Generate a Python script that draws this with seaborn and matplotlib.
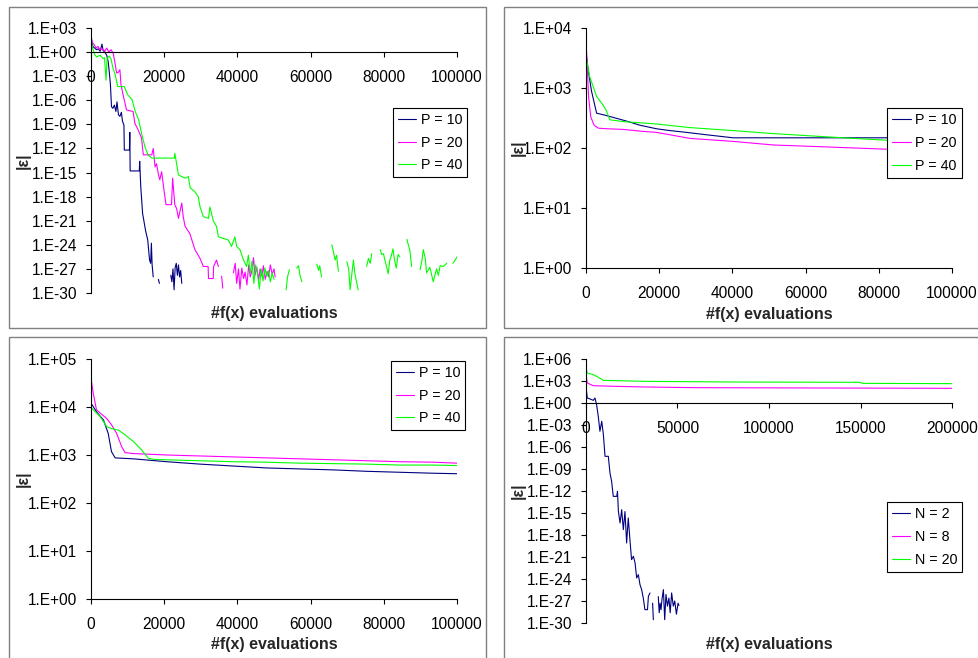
import numpy as np
import pandas as pd
import matplotlib
matplotlib.use("Agg")
import matplotlib.pyplot as plt
from matplotlib.patches import Rectangle
from matplotlib.ticker import FixedLocator, FixedFormatter, NullLocator
import seaborn as sns

# ---------------- data: (evaluations, log10 |eps|), None = gap ----------------
P1_P10 = [(0, 1.8), (500, 0.7), (1000, 0.5), (1500, 0.3), (2000, 0.4), (2500, 0.1),
          (3000, 1.0), (3300, 0.2), (3800, 0.0), (4300, -0.4), (4700, -1.2), (5000, -2.5),
          (5300, -4.0), (5600, -6.8), (6000, -7.0), (6400, -6.6), (6800, -7.4), (7100, -6.2),
          (7500, -7.8), (7900, -8.0), (8300, -7.5), (8600, -8.6), (9000, -9.1), (9100, -12.2),
          (10500, -12.2), (10600, -10.0), (10700, -14.8), (13200, -14.8), (13300, -13.6),
          (13600, -16.8), (14100, -20.1), (14900, -22.2), (15500, -23.4), (16000, -25.9),
          (16300, -26.3), (16500, -23.8), (16700, -26.5), (17000, -28.0), None,
          (18400, -28.3), (18700, -28.8), None,
          (21800, -27.8), (22100, -28.6), (22400, -27.0), (22700, -29.6), (23000, -26.8),
          (23300, -26.3), (23600, -27.8), (23900, -26.5), (24200, -28.0), (24500, -27.2),
          (24800, -28.8)]
P1_P20 = [(0, 2.0), (400, 1.2), (900, 0.9), (1400, 0.5), (1900, 0.7), (2500, 0.3),
          (3100, 0.4), (3700, 0.1), (4300, 0.5), (4900, 0.0), (5500, 0.3), (6100, -0.2),
          (6600, -1.5), (7000, -2.6), (7500, -2.5), (7900, -2.2), (8200, -4.1), (9000, -5.8),
          (9700, -7.2), (11500, -7.4), (12000, -8.9), (12900, -9.7), (13800, -10.7),
          (14300, -12.8), (16600, -12.8), (17000, -12.0), (17500, -14.3), (17900, -13.9),
          (18400, -15.2), (18800, -15.9), (19300, -14.9), (20000, -17.4), (20500, -19.0),
          (22000, -19.0), (22300, -15.7), (22900, -19.0), (23400, -19.5), (23900, -20.7),
          (24800, -18.8), (25200, -20.5), (25700, -21.7), (27000, -22.6), (28400, -24.6),
          (29800, -25.7), (30700, -26.7), (32000, -26.7), (32100, -28.2), (33400, -28.2),
          (33500, -26.7), (34300, -25.9), (34800, -26.7), None,
          (35700, -27.9), (36000, -29.4), None,
          (38900, -27.5), (39400, -26.3), (39800, -28.8), (40300, -27.0), (40700, -29.5),
          (41200, -26.9), (41700, -28.2), (42100, -27.4), (42600, -29.0), (43100, -26.5),
          (43500, -28.0), (44000, -27.2), (44400, -25.6), (44800, -27.8), (45300, -26.8),
          (45800, -28.4), (46200, -27.0), (46700, -27.9), (47100, -26.6), (47600, -28.3),
          (48100, -27.3), (48500, -28.0), (49000, -26.5), (49500, -27.7), (50000, -27.0),
          (50300, -28.0)]
P1_P40 = [(0, 1.6), (500, 0.4), (1000, -0.3), (1500, -0.6), (2500, -0.4), (3300, -0.8),
          (3700, -0.7), (4100, -3.5), (4400, -0.8), (5000, -0.5), (5500, -0.9), (6000, -2.0),
          (6600, -2.8), (7300, -4.3), (9100, -4.3), (10000, -5.3), (11200, -5.9),
          (12100, -7.4), (13000, -8.4), (13800, -10.1), (14800, -11.9), (15600, -12.8),
          (16600, -13.2), (22800, -13.2), (22900, -12.6), (23900, -15.3), (25700, -15.7),
          (26600, -15.5), (27100, -16.9), (28400, -17.4), (29300, -18.0), (29800, -19.3),
          (30700, -20.5), (32100, -20.7), (32500, -19.3), (33400, -21.0), (34300, -21.7),
          (34800, -23.0), (37500, -23.4), (38400, -24.2), (39300, -23.0), (39800, -24.2),
          (40700, -24.6), (41600, -25.8), (42500, -26.7), (43000, -25.3), (43500, -27.6),
          (44000, -26.0), (44500, -28.8), (45000, -26.5), (45500, -27.5), (46000, -29.5),
          (46500, -27.0), (47000, -28.5), (47500, -26.9), (48000, -27.9), (48500, -27.2),
          (49000, -28.6), (49500, -27.5), (50000, -28.3), None,
          (53300, -29.6), (53700, -28.0), (54200, -27.1), None,
          (56200, -26.9), (56700, -26.6), (57100, -27.8), (57600, -28.6), None,
          (61700, -26.4), (62200, -27.2), (62500, -26.6), (63000, -28.0), None,
          (65800, -24.0), (66300, -25.0), (66700, -25.9), (67100, -25.3), (67600, -27.3), None,
          (69900, -26.1), (70400, -27.0), (70800, -29.6), (71300, -27.5), (71700, -25.9),
          (72100, -27.6), (72500, -28.5), (73000, -29.6), None,
          (75300, -26.7), (75800, -25.7), (76300, -26.3), (76700, -25.1), None,
          (79000, -24.6), (79400, -25.2), (79900, -25.1), (80300, -25.9), (80800, -26.8),
          (81200, -27.6), (81600, -26.0), (82100, -25.3), (82500, -24.5), (82900, -25.8),
          (83400, -26.9), (83900, -25.2), (84400, -25.5), None,
          (86300, -23.3), (86700, -24.0), (87100, -24.6), (87600, -26.7), None,
          (89900, -27.1), (90400, -26.0), (90800, -24.6), (91300, -25.6), (91700, -27.5),
          (92600, -26.8), (93500, -28.6), (94400, -27.0), (94900, -27.8), (95400, -26.6),
          (96300, -26.7), (97200, -26.3), None,
          (98900, -26.3), (99500, -25.9), (100000, -25.5)]

P2_P10 = [(0, 3.6), (600, 3.3), (1500, 2.95), (2900, 2.58), (5000, 2.55), (8000, 2.50),
          (11000, 2.45), (14700, 2.38), (19300, 2.32), (23000, 2.29), (27500, 2.26),
          (33000, 2.22), (40200, 2.17), (60000, 2.17), (82000, 2.17), (100000, 2.17)]
P2_P20 = [(0, 3.8), (300, 3.4), (700, 2.86), (1300, 2.52), (2200, 2.38), (3400, 2.33),
          (6000, 2.32), (10200, 2.31), (15000, 2.28), (19300, 2.26), (28400, 2.16),
          (40200, 2.11), (51200, 2.05), (64800, 2.02), (82100, 1.98), (100000, 1.97)]
P2_P40 = [(0, 3.52), (1000, 3.19), (2900, 2.86), (4600, 2.72), (5500, 2.63), (6500, 2.47),
          (10200, 2.44), (19300, 2.40), (28400, 2.34), (40200, 2.29), (51200, 2.24),
          (64800, 2.19), (70300, 2.17), (82100, 2.13), (100000, 2.10)]

P3_P10 = [(0, 4.08), (1500, 3.90), (3400, 3.73), (4700, 3.45), (5600, 3.07), (6600, 2.94),
          (11600, 2.92), (20700, 2.86), (29800, 2.81), (38900, 2.77), (48000, 2.73),
          (57100, 2.71), (66200, 2.69), (75400, 2.66), (84500, 2.64), (93600, 2.62),
          (100000, 2.61)]
P3_P20 = [(0, 4.60), (600, 4.29), (1500, 3.94), (4300, 3.76), (5600, 3.63), (7000, 3.45),
          (8400, 3.17), (9300, 3.05), (11600, 3.03), (20700, 3.00), (29800, 2.98),
          (38900, 2.96), (48000, 2.94), (57100, 2.92), (66200, 2.90), (75400, 2.88),
          (84500, 2.86), (93600, 2.85), (100000, 2.83)]
P3_P40 = [(0, 3.99), (2500, 3.80), (4300, 3.59), (5600, 3.55), (7500, 3.52), (9300, 3.42),
          (11600, 3.28), (13900, 3.10), (15700, 2.93), (17000, 2.91), (20700, 2.90),
          (29800, 2.88), (38900, 2.86), (48000, 2.85), (57100, 2.83), (66200, 2.82),
          (75400, 2.81), (84500, 2.79), (93600, 2.79), (100000, 2.78)]

P4_N2 = [(200, 1.82), (700, 0.68), (2200, 0.55), (4000, 0.36), (4900, 0.68), (5800, -0.23),
         (6700, -1.82), (7600, -3.86), (8600, -2.5), (9500, -4.32), (10400, -7.27),
         (12200, -7.27), (13100, -9.55), (14000, -10.68), (14900, -12.73), (16800, -12.73),
         (17200, -12.05), (17700, -14.77), (18600, -16.36), (19500, -14.55), (20400, -17.27),
         (21300, -14.8), (22200, -19.09), (23100, -15.68), (24000, -18.64), (24900, -21.36),
         (25900, -20.9), (26800, -21.8), (27700, -23.86), (28600, -23.4), (29500, -24.77),
         (30400, -25.45), (31300, -26.59), (32200, -28.18), (33600, -28.18), (34100, -26.36),
         (35000, -25.9), None, (36400, -27.3), (36800, -29.55), None,
         (39500, -26.4), (40000, -28.6), (40500, -27.3), (41000, -28.2), (41500, -26.8),
         (42300, -25.45), (43000, -29.55), (43700, -26.1), (44500, -27.7), (45300, -26.6),
         (46000, -28.6), (46800, -25.9), (47700, -27.7), (48500, -27.0), (49400, -28.8),
         (50300, -27.3), (50800, -27.6)]
P4_N8 = [(0, 3.86), (700, 2.73), (4000, 2.36), (16800, 2.27), (33000, 2.18), (60000, 2.09),
         (200000, 2.00)]
P4_N20 = [(0, 4.77), (700, 4.09), (4000, 3.86), (5800, 3.64), (9500, 3.09), (33000, 2.95),
          (82000, 2.86), (150000, 2.82), (151000, 2.68), (200000, 2.64)]

P_LABELS = ["P = 10", "P = 20", "P = 40"]
N_LABELS = ["N = 2", "N = 8", "N = 20"]
X_TICKS_100K = [0, 20000, 40000, 60000, 80000, 100000]
X_TICKS_200K = [0, 50000, 100000, 150000, 200000]
Y_EXP_P1 = [3, 0, -3, -6, -9, -12, -15, -18, -21, -24, -27, -30]
Y_EXP_P2 = [4, 3, 2, 1, 0]
Y_EXP_P3 = [5, 4, 3, 2, 1, 0]
Y_EXP_P4 = [6, 3, 0, -3, -6, -9, -12, -15, -18, -21, -24, -27, -30]
X_LABEL = "#f(x) evaluations"
Y_LABEL = "|ε|"
COLORS = ["#000080", "#FF00FF", "#00FF00"]

# ---------------- style ----------------
W, H = 979, 658
sns.set_style("white")
plt.rcParams["font.family"] = ["Liberation Sans", "DejaVu Sans"]
plt.rcParams.update({
    "axes.edgecolor": "black", "axes.linewidth": 0.8,
    "xtick.bottom": True, "ytick.left": True,
    "xtick.direction": "out", "ytick.direction": "out",
    "xtick.major.size": 3.6, "ytick.major.size": 3.6,
    "xtick.major.width": 0.8, "ytick.major.width": 0.8,
    "xtick.color": "black", "ytick.color": "black",
    "xtick.major.pad": 9.5, "ytick.major.pad": 6.5,
    "xtick.labelsize": 11.2, "ytick.labelsize": 11.2,
    "lines.linewidth": 0.8, "text.color": "black",
})

fig = plt.figure(figsize=(W / 100, H / 100), dpi=100)
fig.patch.set_facecolor("white")


def px_rect(x0, y0, x1, y1):
    return [x0 / W, 1 - y1 / H, (x1 - x0) / W, (y1 - y0) / H]


# panel frames
for (x0, y0, x1, y1) in [(9, 7, 486, 328), (504, 7, 990, 328),
                         (9, 337, 486, 670), (504, 337, 990, 670)]:
    fig.add_artist(Rectangle((x0 / W, 1 - y1 / H), (x1 - x0) / W, (y1 - y0) / H,
                             transform=fig.transFigure, fill=False,
                             edgecolor="#808080", linewidth=1.0))


def make_df(series, labels):
    rows = []
    for lab, pts in zip(labels, series):
        seg = 0
        for p in pts:
            if p is None:
                seg += 1
                continue
            rows.append((lab, f"{lab}#{seg}", p[0], 10.0 ** p[1]))
    return pd.DataFrame(rows, columns=["series", "seg", "evals", "eps"])


def exp_label(e):
    return "1.E" + ("+" if e >= 0 else "-") + f"{abs(e):02d}"


panels = [
    dict(rect=px_rect(91, 28, 457, 293), series=[P1_P10, P1_P20, P1_P40], labels=P_LABELS,
         yexp=Y_EXP_P1, xticks=X_TICKS_100K, xcross=True, xlab_y=-0.0792,
         leg=(392.7, 107.7)),
    dict(rect=px_rect(586, 28, 952, 268), series=[P2_P10, P2_P20, P2_P40], labels=P_LABELS,
         yexp=Y_EXP_P2, xticks=X_TICKS_100K, xcross=False, xlab_y=-0.193,
         leg=(887.3, 108)),
    dict(rect=px_rect(91, 359, 457, 599), series=[P3_P10, P3_P20, P3_P40], labels=P_LABELS,
         yexp=Y_EXP_P3, xticks=X_TICKS_100K, xcross=False, xlab_y=-0.189,
         leg=(390.7, 360.7)),
    dict(rect=px_rect(586, 359, 952, 623), series=[P4_N2, P4_N8, P4_N20], labels=N_LABELS,
         yexp=Y_EXP_P4, xticks=X_TICKS_200K, xcross=True, xlab_y=-0.0807,
         leg=(886.7, 502.3)),
]

for pn in panels:
    ax = fig.add_axes(pn["rect"])
    ax.set_facecolor("none")
    ax.set_yscale("log")
    df = make_df(pn["series"], pn["labels"])
    sns.lineplot(data=df, x="evals", y="eps", hue="series", units="seg",
                 estimator=None, sort=False, hue_order=pn["labels"],
                 palette=dict(zip(pn["labels"], COLORS)), linewidth=0.8, ax=ax)
    ymin, ymax = min(pn["yexp"]), max(pn["yexp"])
    ax.set_ylim(10.0 ** ymin, 10.0 ** ymax)
    ax.set_xlim(pn["xticks"][0], pn["xticks"][-1])
    ax.yaxis.set_major_locator(FixedLocator([10.0 ** e for e in pn["yexp"]]))
    ax.yaxis.set_major_formatter(FixedFormatter([exp_label(e) for e in pn["yexp"]]))
    ax.yaxis.set_minor_locator(NullLocator())
    ax.set_xticks(pn["xticks"])
    ax.set_xticklabels([str(t) for t in pn["xticks"]])
    ax.xaxis.set_minor_locator(NullLocator())
    for s in ["top", "right"]:
        ax.spines[s].set_visible(False)
    if pn["xcross"]:
        ax.spines["bottom"].set_position(("data", 1.0))
    ax.set_xlabel(X_LABEL, fontsize=11.5, fontweight="bold")
    ax.set_ylabel(Y_LABEL, fontsize=11.5, fontweight="bold")
    ax.xaxis.set_label_coords(0.5, pn["xlab_y"])
    ax.xaxis.label.set_verticalalignment("center")
    ax.yaxis.set_label_coords(-0.186, 0.5)
    ax.yaxis.label.set_verticalalignment("center")
    ax.yaxis.label.set_bbox(dict(facecolor="white", edgecolor="none", pad=0.5))
    ax.yaxis.label.set_zorder(10)
    handles, labels = ax.get_legend_handles_labels()
    if ax.get_legend() is not None:
        ax.get_legend().remove()
    lx, ly = pn["leg"]
    leg = ax.legend(handles, labels, loc="upper left",
                    bbox_to_anchor=(lx / W, 1 - ly / H), bbox_transform=fig.transFigure,
                    borderaxespad=0, frameon=True, fancybox=False, framealpha=1,
                    edgecolor="black", facecolor="white", fontsize=10.3,
                    handlelength=1.3, handletextpad=0.3, labelspacing=0.62,
                    borderpad=0.35)
    leg.get_frame().set_linewidth(0.8)
    for h in leg.get_lines():
        h.set_linewidth(0.8)

fig.savefig("out.png", dpi=100, facecolor="white")
